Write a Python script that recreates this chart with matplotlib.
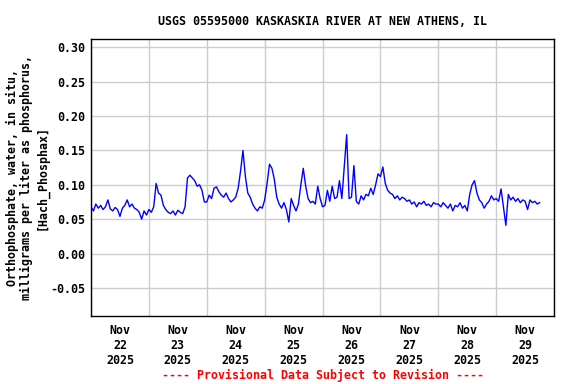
import numpy as np
import pandas as pd
import matplotlib
matplotlib.use("Agg")
import matplotlib.pyplot as plt
import matplotlib.dates as mdates

plt.rcParams['axes.unicode_minus'] = False
plt.rcParams['font.family'] = ['DejaVu Sans Mono']
plt.rcParams['font.weight'] = 'bold'

# hourly values, mg/L as P
nov22 = [0.068, 0.062, 0.072, 0.066, 0.070, 0.064, 0.068, 0.078, 0.065, 0.062, 0.067, 0.064,
         0.054, 0.066, 0.070, 0.078, 0.068, 0.072, 0.066, 0.064, 0.060, 0.050, 0.062, 0.056]
nov23 = [0.064, 0.060, 0.068, 0.102, 0.088, 0.085, 0.070, 0.064, 0.060, 0.058, 0.062, 0.056,
         0.063, 0.060, 0.058, 0.068, 0.110, 0.114, 0.110, 0.106, 0.098, 0.100, 0.092, 0.075]
nov24 = [0.075, 0.085, 0.080, 0.095, 0.097, 0.090, 0.085, 0.082, 0.088, 0.080, 0.075, 0.078,
         0.082, 0.095, 0.120, 0.150, 0.112, 0.088, 0.082, 0.072, 0.066, 0.062, 0.068, 0.066]
nov25 = [0.078, 0.102, 0.130, 0.124, 0.108, 0.082, 0.072, 0.066, 0.074, 0.064, 0.046, 0.080,
         0.070, 0.062, 0.072, 0.100, 0.124, 0.098, 0.080, 0.074, 0.076, 0.072, 0.098, 0.080]
nov26 = [0.068, 0.070, 0.092, 0.076, 0.098, 0.080, 0.082, 0.106, 0.080, 0.126, 0.173, 0.080,
         0.082, 0.128, 0.076, 0.072, 0.084, 0.078, 0.086, 0.084, 0.095, 0.086, 0.100, 0.116]
nov27 = [0.112, 0.126, 0.102, 0.092, 0.088, 0.086, 0.080, 0.084, 0.078, 0.082, 0.080, 0.076,
         0.078, 0.072, 0.075, 0.068, 0.074, 0.072, 0.076, 0.070, 0.072, 0.068, 0.074, 0.072]
nov28 = [0.072, 0.068, 0.074, 0.070, 0.066, 0.072, 0.062, 0.070, 0.068, 0.074, 0.066, 0.070,
         0.062, 0.086, 0.100, 0.106, 0.088, 0.078, 0.074, 0.066, 0.072, 0.076, 0.084, 0.078]
nov29 = [0.080, 0.076, 0.094, 0.068, 0.041, 0.086, 0.078, 0.082, 0.076, 0.080, 0.074, 0.078,
         0.076, 0.064, 0.078, 0.074, 0.076, 0.072, 0.074]

values = nov22 + nov23 + nov24 + nov25 + nov26 + nov27 + nov28 + nov29
times = pd.date_range("2025-11-22 00:00", periods=len(values), freq="h")

title = "USGS 05595000 KASKASKIA RIVER AT NEW ATHENS, IL"
ylabel = "Orthophosphate, water, in situ,\nmilligrams per liter as phosphorus,\n[Hach_Phosphax]"
footer = "---- Provisional Data Subject to Revision ----"
y_ticks = [-0.05, 0.00, 0.05, 0.10, 0.15, 0.20, 0.25, 0.30]

fig = plt.figure(figsize=(5.76, 3.84), dpi=100)
ax = fig.add_axes([0.158, 0.177, 0.804, 0.721])

ax.plot(times, values, color='#0000ff', linewidth=1.0)

ax.set_xlim(pd.Timestamp("2025-11-22"), pd.Timestamp("2025-11-30"))
ax.set_ylim(-0.091, 0.312)

# grid on day boundaries, labels at noon
ax.xaxis.set_major_locator(mdates.DayLocator())
ax.xaxis.set_major_formatter(plt.NullFormatter())
ax.xaxis.set_minor_locator(mdates.HourLocator(byhour=[12]))
ax.xaxis.set_minor_formatter(mdates.DateFormatter("%b\n%d\n%Y"))
ax.set_yticks(y_ticks)
ax.yaxis.set_major_formatter(plt.FormatStrFormatter("%.2f"))

ax.tick_params(axis='both', which='both', length=0, labelsize=8.4)
ax.tick_params(axis='x', which='minor', pad=6)
ax.tick_params(axis='y', pad=4)
ax.grid(True, which='major', color='#cccccc', linewidth=1)
ax.set_axisbelow(True)
for sp in ax.spines.values():
    sp.set_linewidth(1)
    sp.set_color('black')

fig.text(27 / 576, 0.538, ylabel, rotation=90, ha='center', va='center',
         multialignment='center', fontsize=8.4, linespacing=1.15)
fig.text(0.56, 0.945, title, ha='center', va='center', fontsize=8.4)
fig.text(0.56, 0.023, footer, ha='center', va='center', fontsize=8.4, color='red')

fig.savefig("out.png", dpi=100)
